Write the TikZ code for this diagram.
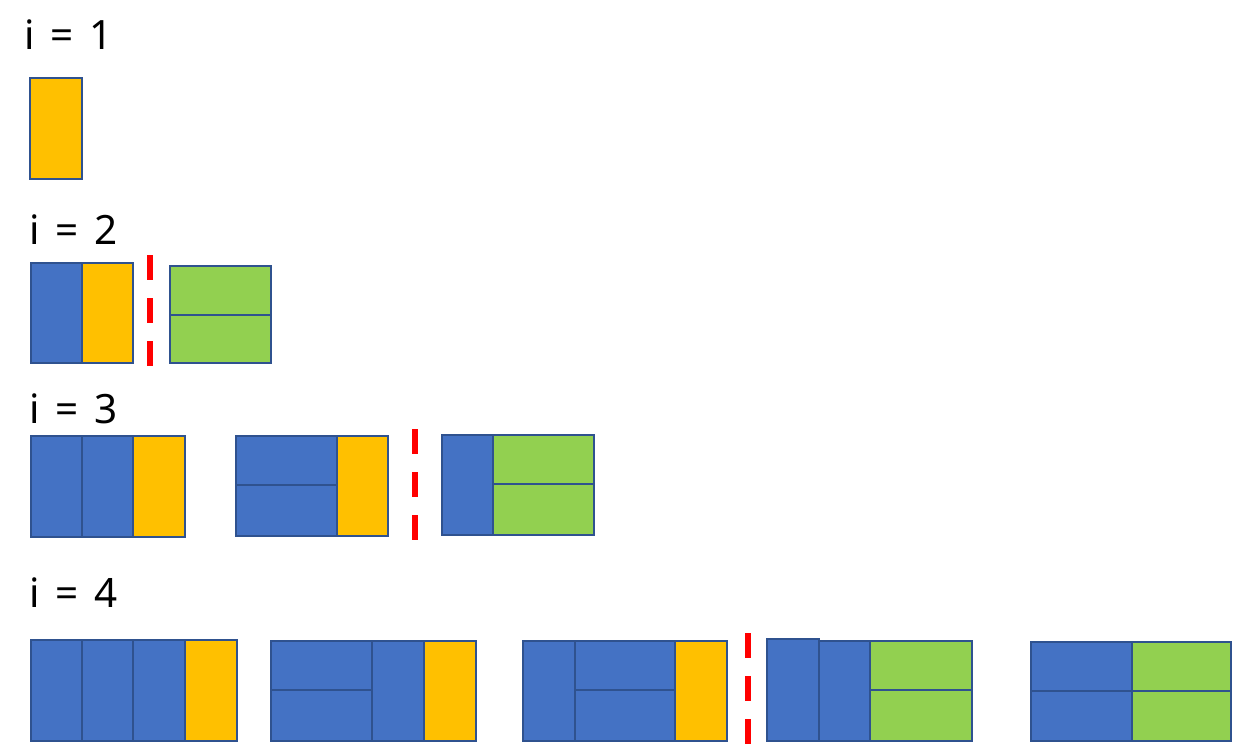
\documentclass[tikz,border=0pt]{standalone}
\usepackage{fontspec}
\setmainfont{Noto Sans}
\usepackage{tikz}

\definecolor{tblue}{HTML}{4472C4}
\definecolor{tyellow}{HTML}{FFC000}
\definecolor{tgreen}{HTML}{92D050}
\definecolor{tedge}{HTML}{2F528F}

\newcommand{\steplabel}[1]{i\hspace{9pt}=\hspace{9pt}#1}

\begin{document}
\begin{tikzpicture}[
  x=0.02cm, y=-0.02cm,
  blu/.style={draw=tedge,fill=tblue,line width=1.4pt},
  yel/.style={draw=tedge,fill=tyellow,line width=1.4pt},
  grn/.style={draw=tedge,fill=tgreen,line width=1.4pt},
  cut/.style={draw=red,line width=2.9pt,dash pattern=on 14pt off 10.5pt},
  lbl/.style={anchor=base west,inner sep=0pt,font=\fontsize{23}{26}\selectfont}
]
\useasboundingbox (0,0) rectangle (1233,750);

% i = 1
\node[lbl] (l1) at (24,50) {\steplabel{1}};
\draw[yel] (30,78) rectangle (82,179);

% i = 2
\node[lbl] (l2) at (29,244) {\steplabel{2}};
\draw[blu] (31,263) rectangle (82,363);
\draw[yel] (82,263) rectangle (133,363);
\draw[cut] (150,255) -- (150,368);
\draw[grn] (170,266) rectangle (271,315);
\draw[grn] (170,315) rectangle (271,363);

% i = 3
\node[lbl] (l3) at (29,423) {\steplabel{3}};
\draw[blu] (31,436) rectangle (82,537);
\draw[blu] (82,436) rectangle (133,537);
\draw[yel] (133,436) rectangle (185,537);

\draw[blu] (236,436) rectangle (337,485);
\draw[blu] (236,485) rectangle (337,536);
\draw[yel] (337,436) rectangle (388,536);

\draw[cut] (415,429) -- (415,542);

\draw[blu] (442,435) rectangle (493,535);
\draw[grn] (493,435) rectangle (594,484);
\draw[grn] (493,484) rectangle (594,535);

% i = 4
\node[lbl] (l4) at (29,607) {\steplabel{4}};
\foreach \xa/\xb in {31/82,82/133,133/185}
  \draw[blu] (\xa,640) rectangle (\xb,741);
\draw[yel] (185,640) rectangle (237,741);

\draw[blu] (271,641) rectangle (372,690);
\draw[blu] (271,690) rectangle (372,741);
\draw[blu] (372,641) rectangle (424,741);
\draw[yel] (424,641) rectangle (476,741);

\draw[blu] (523,641) rectangle (575,741);
\draw[blu] (575,641) rectangle (675,690);
\draw[blu] (575,690) rectangle (675,741);
\draw[yel] (675,641) rectangle (727,741);

\draw[cut] (748,633) -- (748,746);

\draw[blu] (767,639) rectangle (819,741);
\draw[blu] (819,641) rectangle (870,741);
\draw[grn] (870,641) rectangle (972,690);
\draw[grn] (870,690) rectangle (972,741);

\draw[blu] (1031,642) rectangle (1132,691);
\draw[blu] (1031,691) rectangle (1132,741);
\draw[grn] (1132,642) rectangle (1231,691);
\draw[grn] (1132,691) rectangle (1231,741);
\end{tikzpicture}
\end{document}
